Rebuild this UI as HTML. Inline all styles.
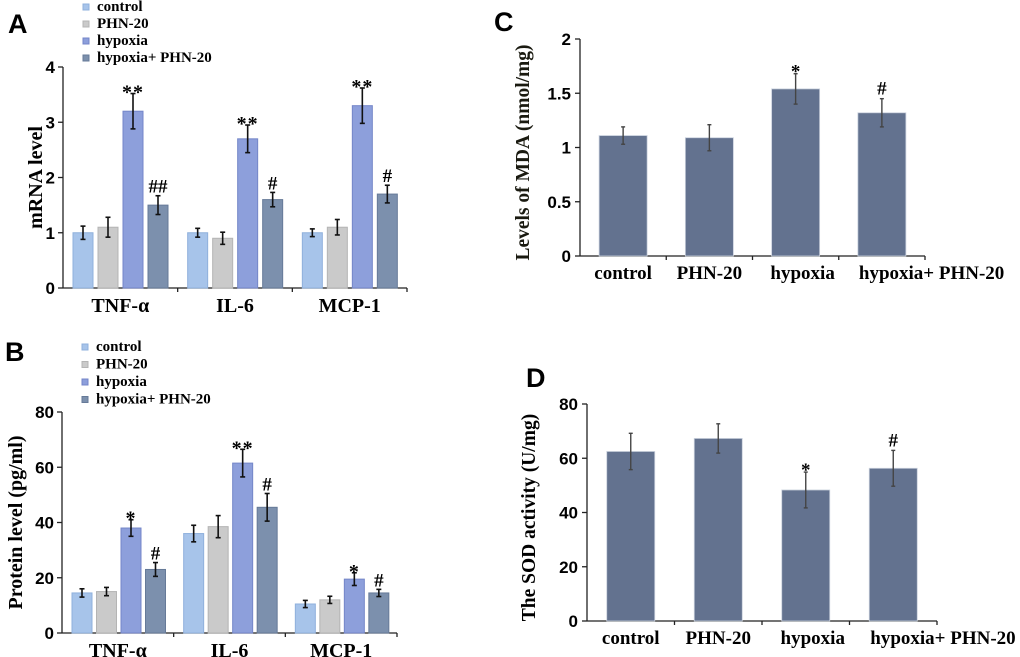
<!DOCTYPE html>
<html><head><meta charset="utf-8"><style>
body{margin:0;background:#fff;width:1020px;height:657px;overflow:hidden}
svg{display:block}
.ser{font-family:"Liberation Serif",serif;font-weight:bold}
.sans{font-family:"Liberation Sans",sans-serif;font-weight:bold}
</style></head><body>
<svg id="fig" width="1020" height="657" viewBox="0 0 1020 657"></svg>
<script>
const groupsAB = ["TNF-α","IL-6","MCP-1"];
const seriesNames = ["control","PHN-20","hypoxia","hypoxia+ PHN-20"];
const aVals = [[1.0,1.1,3.2,1.5],[1.0,0.9,2.7,1.6],[1.0,1.1,3.3,1.7]];
const aErr  = [[0.12,0.18,0.32,0.17],[0.08,0.11,0.25,0.13],[0.07,0.14,0.32,0.16]];
const aMarks= [["","","**","##"],["","","**","#"],["","","**","#"]];
const aTicks = [0,1,2,3,4];
const bVals = [[14.5,15,38,23],[36,38.5,61.5,45.5],[10.5,12,19.5,14.5]];
const bErr  = [[1.5,1.5,3,2.5],[3,4,5,5],[1.3,1.3,2.3,1.3]];
const bMarks= [["","","*","#"],["","","**","#"],["","","*","#"]];
const bTicks = [0,20,40,60,80];
const cdCats = ["control","PHN-20","hypoxia","hypoxia+ PHN-20"];
const cVals = [1.11,1.09,1.54,1.32];
const cErr  = [0.08,0.12,0.14,0.13];
const cMarks= ["","","*","#"];
const cTicks = [0,0.5,1,1.5,2];
const dVals = [62.5,67.3,48.3,56.3];
const dErr  = [6.7,5.4,6.6,6.6];
const dMarks= ["","","*","#"];
const dTicks = [0,20,40,60,80];

const NS="http://www.w3.org/2000/svg";
const svg=document.getElementById('fig');
function mk(tag,attrs,parent,text){const e=document.createElementNS(NS,tag);for(const k in attrs)e.setAttribute(k,attrs[k]);if(text!==undefined)e.textContent=text;(parent||svg).appendChild(e);return e;}
const colors=["#a7c4ea","#cacaca","#8d9fdb","#7c90ad"];
const strokes=["#8fb0dc","#b4b4b4","#7486c8","#667a98"];

function panelLabel(t,x,y){const e=mk('text',{x:x,y:y,'font-size':27,class:'sans'},svg,t);

}

function errBar(g,cx,yTop,yBot,cap,col,w){
 mk('line',{x1:cx,x2:cx,y1:yTop,y2:yBot,stroke:col,'stroke-width':w},g);
 mk('line',{x1:cx-cap,x2:cx+cap,y1:yTop,y2:yTop,stroke:col,'stroke-width':w},g);
 mk('line',{x1:cx-cap,x2:cx+cap,y1:yBot,y2:yBot,stroke:col,'stroke-width':w},g);
}

function groupedPanel(cfg){
 const g=mk('g',{});
 
 
 const ys=v=>cfg.y0-(v-cfg.min)/(cfg.max-cfg.min)*(cfg.y0-cfg.yTop);
 seriesNames.forEach((s,i)=>{
  const le=mk('g',{},g);
  
  
  const ly=cfg.legY+i*cfg.legStep;
  mk('rect',{x:cfg.legX,y:ly-5,width:6,height:6,fill:colors[i],stroke:strokes[i]},le);
  mk('text',{x:cfg.legX+14,y:ly+2,'font-size':15,class:'ser'},le,s);
 });
 const ax=mk('g',{},g);
 
 
 mk('line',{x1:cfg.x0,x2:cfg.x0,y1:cfg.yTop,y2:cfg.y0,stroke:'#222','stroke-width':1.3},ax);
 cfg.ticks.forEach(t=>{const y=ys(t);
  mk('line',{x1:cfg.x0-5,x2:cfg.x0,y1:y,y2:y,stroke:'#222','stroke-width':1.3},ax);
  mk('text',{x:cfg.x0-8,y:y+6,'font-size':17,'text-anchor':'end',class:'sans'},ax,String(t));});
 const xa=mk('g',{},g);
 
 
 mk('line',{x1:cfg.x0,x2:cfg.xEnd,y1:cfg.y0,y2:cfg.y0,stroke:'#222','stroke-width':1.3},xa);
 const gw=(cfg.xEnd-cfg.x0)/groupsAB.length;
 for(let k=1;k<=groupsAB.length;k++){const x=cfg.x0+k*gw;mk('line',{x1:x,x2:x,y1:cfg.y0,y2:cfg.y0+4,stroke:'#222','stroke-width':1.3},xa);}
 const yt=mk('text',{transform:`translate(${cfg.titleX},${(cfg.y0+cfg.yTop)/2}) rotate(-90)`,'text-anchor':'middle','font-size':20,class:'ser'},g,cfg.title);
 
 
 groupsAB.forEach((gn,gi)=>{
  const gx=cfg.x0+gi*gw;
  const lab=mk('text',{x:gx+gw/2,y:cfg.y0+24,'font-size':20,'text-anchor':'middle',class:'ser'},xa,gn);
  
  
  cfg.vals[gi].forEach((v,si)=>{
   const bx=gx+cfg.off+si*cfg.pitch, y=ys(v);
   const r=mk('rect',{x:bx,y:y,width:cfg.bw,height:cfg.y0-y,fill:colors[si],stroke:strokes[si],'stroke-width':1},g);
   
   
   const cx=bx+cfg.bw/2,e=cfg.err[gi][si];
   errBar(g,cx,ys(v+e),ys(v-e),2.5,'#111',1.6);
   const m=cfg.marks[gi][si];
   if(m){const star=m[0]=='*';
    const t=mk('text',{x:cx,y:ys(v+e)-3+(star?8:0),'font-size':star?20:19,'text-anchor':'middle',class:'ser','letter-spacing':star?'1':'0'},g,m);
    
    }
  });
 });
}

function simplePanel(cfg){
 const g=mk('g',{});
 
 
 const ys=v=>cfg.y0-(v-cfg.min)/(cfg.max-cfg.min)*(cfg.y0-cfg.yTop);
 const ax=mk('g',{},g);
 
 
 mk('line',{x1:cfg.x0,x2:cfg.x0,y1:cfg.yTop,y2:cfg.y0,stroke:'#222','stroke-width':1.3},ax);
 cfg.ticks.forEach(t=>{const y=ys(t);
  mk('line',{x1:cfg.x0-5,x2:cfg.x0,y1:y,y2:y,stroke:'#222','stroke-width':1.3},ax);
  mk('text',{x:cfg.x0-9,y:y+6,'font-size':17,'text-anchor':'end',class:'sans'},ax,String(t));});
 const xa=mk('g',{},g);
 
 
 mk('line',{x1:cfg.x0,x2:cfg.xEnd,y1:cfg.y0,y2:cfg.y0,stroke:'#222','stroke-width':1.3},xa);
 const pw=(cfg.xEnd-cfg.x0)/cdCats.length;
 for(let k=1;k<=cdCats.length;k++){const x=cfg.x0+k*pw;mk('line',{x1:x,x2:x,y1:cfg.y0,y2:cfg.y0+4,stroke:'#222','stroke-width':1.3},xa);}
 const yt=mk('text',{transform:`translate(${cfg.titleX},${(cfg.y0+cfg.yTop)/2+5}) rotate(-90)`,'text-anchor':'middle','font-size':19.5,class:'ser',fill:cfg.titleFill||'#000'},g,cfg.title);
 
 
 const labDx=[0,0,7,0];
 cdCats.forEach((c,i)=>{
  const cx=cfg.x0+pw*i+pw/2;
  const last=i==cdCats.length-1;
  const lab=mk('text',{x:last?cx-cfg.bw/2+1:cx+labDx[i],y:cfg.y0+23,'font-size':19,'text-anchor':last?'start':'middle',class:'ser'},xa,c);
  
  
  const v=cfg.vals[i],y=ys(v);
  const r=mk('rect',{x:cx-cfg.bw/2,y:y,width:cfg.bw,height:cfg.y0-y,fill:'#63728f',stroke:'#c9d0dc','stroke-width':0.8},g);
  
  
  const e=cfg.err[i];
  errBar(g,cx,ys(v+e),ys(v-e),2,'#444',1.4);
  const m=cfg.marks[i];
  if(m){const t=mk('text',{x:cx,y:ys(v+e)-(m=='*'?-4:4),'font-size':19,'text-anchor':'middle',class:'ser'},g,m);
   
   }
 });
}

panelLabel('A',8,33);
panelLabel('B',5,361);
panelLabel('C',494,31);
panelLabel('D',526,387);

groupedPanel({name:'panel-a-mrna-chart',vals:aVals,err:aErr,marks:aMarks,ticks:aTicks,min:0,max:4,
 x0:63,xEnd:407,y0:288,yTop:67,off:10,pitch:25,bw:20,legX:83,legY:9,legStep:17,titleX:42,title:'mRNA level'});
groupedPanel({name:'panel-b-protein-chart',vals:bVals,err:bErr,marks:bMarks,ticks:bTicks,min:0,max:80,
 x0:62,xEnd:397,y0:633,yTop:412,off:10,pitch:24.5,bw:20,legX:82,legY:349,legStep:17.5,titleX:22,title:'Protein level (pg/ml)'});
simplePanel({name:'panel-c-mda-chart',vals:cVals,err:cErr,marks:cMarks,ticks:cTicks,min:0,max:2,
 x0:580,xEnd:925,y0:256,yTop:39,bw:48,titleX:529,title:'Levels of MDA (nmol/mg)',titleFill:'#1a1a10'});
simplePanel({name:'panel-d-sod-chart',vals:dVals,err:dErr,marks:dMarks,ticks:dTicks,min:0,max:80,
 x0:587,xEnd:937,y0:621,yTop:404,bw:48,titleX:535,title:'The SOD activity (U/mg)'});
</script>
</body></html>
